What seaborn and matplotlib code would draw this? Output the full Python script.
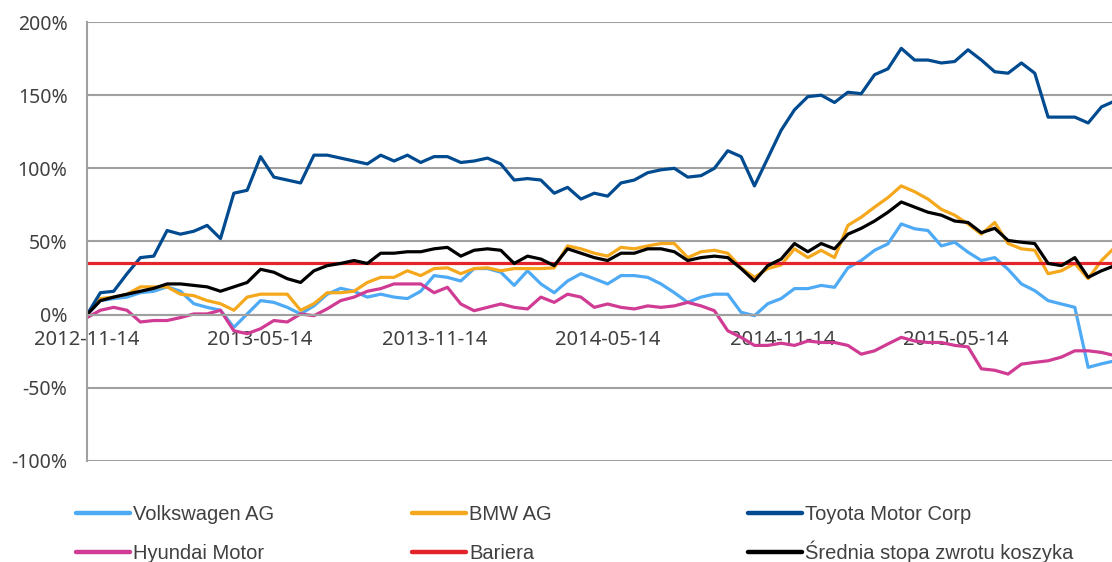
import pandas as pd
import matplotlib.pyplot as plt
import matplotlib.dates as mdates
from matplotlib.ticker import PercentFormatter, MultipleLocator
import seaborn as sns

dates = pd.date_range("2012-11-14", periods=78, freq="14D")

volkswagen = [0, 9.6, 11, 12, 15, 16, 19, 16, 7.5, 5, 3, -8.7, 0.5, 9.6, 8.4, 5, 0.5, 6, 14, 18,
              16, 12, 14, 12, 11, 16, 26.7, 25.5, 23, 31.5, 31.5, 29, 20, 30, 21, 15, 23, 28, 24.6, 21,
              26.7, 26.7, 25.5, 21, 15, 8.4, 12, 14, 14, 1.6, -0.7, 7.5, 11, 17.8, 17.8, 20, 18.7, 32, 37, 44,
              48.4, 62, 58.7, 57.5, 47, 49.5, 42.7, 37, 39, 31, 21, 16.4, 9.6, 7.3, 5, -36, -33.6, -31.5]

bmw = [0, 11, 12, 14, 19, 19, 19, 14, 13, 9.6, 7.5, 3, 12, 14, 14, 14, 3, 7.5, 15, 15,
       16, 22, 25.5, 25.5, 30, 26.7, 31.5, 32, 28, 31.5, 32, 30, 31.5, 31.5, 31.5, 32, 47, 45, 42, 40,
       46, 45, 47, 48.6, 48.6, 39, 43, 44, 42, 32, 25.5, 31.5, 34, 45, 39, 44, 39, 61, 66.6, 73.5,
       80, 88, 84, 79, 72, 68, 62, 55, 63, 48.6, 45, 44, 28, 30, 35, 24.6, 37, 46]

toyota = [0, 15, 16, 28, 39, 40, 57.5, 55, 57, 61, 52, 83, 85, 108, 94, 92, 90, 109, 109, 107,
          105, 103, 109, 105, 109, 104, 108, 108, 104, 105, 107, 103, 92, 93, 92, 83, 87, 79, 83, 81,
          90, 92, 97, 99, 100, 94, 95, 100, 112, 108, 88, 107, 126, 140, 149, 150, 145, 152, 151, 164,
          168, 182, 174, 174, 172, 173, 181, 174, 166, 165, 172, 165, 135, 135, 135, 131, 142, 146]

hyundai = [-2, 3, 5, 3, -5, -4, -4, -2, 0.5, 0.5, 3, -11, -13, -9.6, -4, -5, 0.5, -0.7, 4, 9.6,
           12, 16, 17.8, 21, 21, 21, 15, 18.7, 7.3, 2.7, 5, 7.3, 5, 3.9, 12, 8.4, 14, 12, 5, 7.3,
           5, 3.9, 6, 5, 6, 8.4, 6, 2.7, -11, -15.5, -21, -21, -19.5, -21, -18, -19, -19, -21, -27, -24.7,
           -20, -15.5, -18, -19, -19, -21, -22, -37, -38, -40.6, -33.8, -32.6, -31.5, -29, -24.7, -24.7, -25.8, -28]

average = [0, 9.6, 12, 14, 16, 18, 21, 21, 20, 19, 16, 19, 22, 31, 29, 24.6, 22, 30, 33.5, 35,
           37, 35, 42, 42, 43, 43, 45, 46, 40, 44, 45, 44, 35, 40, 38, 33.5, 45, 42, 39, 37,
           42, 42, 45, 45, 43, 37, 39, 40, 39, 31.5, 23, 33.5, 38, 48.6, 43, 48.6, 45, 55, 59, 64,
           70, 77, 73.5, 70, 68, 64, 63, 56, 59, 50.7, 49.5, 48.6, 35, 33.5, 39, 25.5, 30, 33.5]

bariera = 35

series_names = ["Volkswagen AG", "BMW AG", "Toyota Motor Corp", "Hyundai Motor", "Bariera",
                "Średnia stopa zwrotu koszyka"]
colors = ["#4eaaf5", "#f5a81c", "#004a90", "#d03c93", "#e3242b", "#000000"]

values = [volkswagen, bmw, toyota, hyundai, [bariera] * len(dates), average]
frames = []
for name, vals in zip(series_names, values):
    frames.append(pd.DataFrame({"date": dates, "value": vals, "series": name}))
df = pd.concat(frames, ignore_index=True)

sns.set_style("white")
plt.rcParams["font.family"] = ["Noto Sans", "DejaVu Sans"]
plt.rcParams["axes.unicode_minus"] = False

fig = plt.figure(figsize=(11.12, 5.62), dpi=100)
ax = fig.add_axes([87 / 1112, 1 - 461 / 562, 1 - 87 / 1112, (461 - 22) / 562])

sns.lineplot(data=df, x="date", y="value", hue="series", hue_order=series_names,
             palette=dict(zip(series_names, colors)), linewidth=2.3, legend=False, ax=ax)

grey = "#a0a0a0"
ax.set_ylim(-100, 200)
ax.set_xlim(pd.Timestamp("2012-11-14"), pd.Timestamp("2015-10-25"))
ax.yaxis.set_major_locator(MultipleLocator(50))
ax.yaxis.set_major_formatter(PercentFormatter(decimals=0))
ax.yaxis.grid(True, color=grey, linewidth=1.5)
ax.set_axisbelow(True)

ax.set_xticks(pd.to_datetime(["2012-11-14", "2013-05-14", "2013-11-14",
                              "2014-05-14", "2014-11-14", "2015-05-14"]))
ax.xaxis.set_major_formatter(mdates.DateFormatter("%Y-%m-%d"))

for side in ["top", "right"]:
    ax.spines[side].set_visible(False)
ax.spines["bottom"].set_position(("data", 0))
ax.spines["bottom"].set_color(grey)
ax.spines["bottom"].set_linewidth(1.5)
ax.spines["left"].set_color(grey)
ax.spines["left"].set_linewidth(1.5)

ax.tick_params(axis="x", direction="out", length=6, width=1.2, color=grey,
               labelsize=14.5, labelcolor="#404040", pad=5)
ax.tick_params(axis="y", direction="out", length=6, width=1.2, color=grey,
               labelsize=14, labelcolor="#404040", pad=8)
ax.set_xlabel("")
ax.set_ylabel("")

# Legend: one small legend per entry, laid out 3 columns x 2 rows
# anchored at the bottom so the accent on "Ś" does not shift the row
handles = dict(zip(series_names, ax.get_lines()[:6]))
legend_pos = {"Volkswagen AG": (76, 524), "BMW AG": (412, 524), "Toyota Motor Corp": (748, 524),
              "Hyundai Motor": (76, 563), "Bariera": (412, 563),
              "Średnia stopa zwrotu koszyka": (748, 563)}
for name in series_names:
    xpx, ypx = legend_pos[name]
    leg = fig.legend([handles[name]], [name], loc="lower left",
                     bbox_to_anchor=(xpx / 1112, 1 - ypx / 562), frameon=False,
                     borderpad=0, borderaxespad=0, handlelength=2.7, handletextpad=0.15,
                     prop={"family": ["Liberation Sans", "DejaVu Sans"], "size": 14.5})
    for t in leg.get_texts():
        t.set_color("#404040")
    for h in leg.legend_handles:
        h.set_linewidth(3.2)

fig.savefig("out.png", dpi=100)
